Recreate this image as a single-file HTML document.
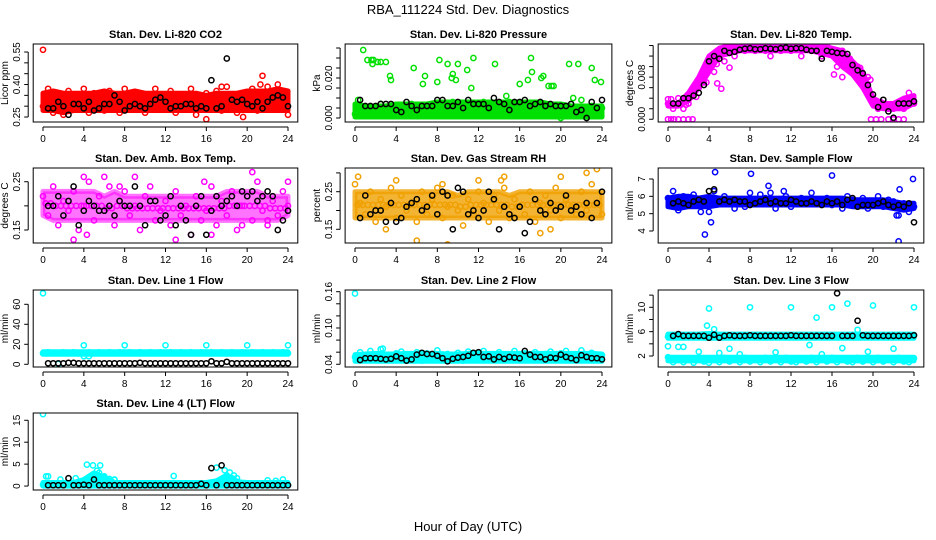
<!DOCTYPE html>
<html><head><meta charset="utf-8"><style>
html,body{margin:0;padding:0;background:#fff}
svg{display:block;font-family:"Liberation Sans",Arial,sans-serif}
</style></head><body>
<svg id="chart" width="936" height="540" viewBox="0 0 936 540">
<text x="468" y="14" text-anchor="middle" font-size="13">RBA_111224  Std. Dev. Diagnostics</text>
<text x="468" y="531" text-anchor="middle" font-size="13">Hour of Day (UTC)</text>
</svg>
<script>
// ---- data (black series & colored series sampled every 0.5 h from 0 to 24) ----
const xTicks=[0,4,8,12,16,20,24];
// P1 CO2
const co2Lo=[0.28,0.28,0.27,0.28,0.28,0.28,0.28,0.28,0.28,0.28,0.28,0.28,0.28,0.28,0.28,0.28,0.28,0.28,0.28,0.28,0.28,0.28,0.28,0.28,0.28];
const co2Hi=[0.36,0.37,0.36,0.36,0.36,0.36,0.37,0.36,0.36,0.37,0.36,0.36,0.36,0.36,0.36,0.36,0.35,0.36,0.36,0.36,0.37,0.37,0.37,0.38,0.37];
const co2Pts=[0.30,0.38,0.27,0.35,0.26,0.37,0.29,0.33,0.38,0.27,0.36,0.30,0.28,0.37,0.32,0.27,0.38,0.29,0.35,0.36,0.27,0.34,0.38,0.29,0.31,0.37,0.27,0.35,0.30,0.38,0.26,0.33,0.36,0.29,0.37,0.28,0.39,0.31,0.27,0.36,0.30,0.38,0.28,0.34,0.39,0.29,0.40,0.36,0.26];
const co2Out=[[0,0.56],[21.5,0.44],[21.3,0.40],[16,0.24],[19.6,0.25],[17.5,0.39]];
const co2Blk=[null,0.29,0.29,0.32,0.30,0.26,0.31,0.31,0.29,0.32,0.28,0.29,0.31,0.31,0.35,0.32,0.28,0.30,0.31,0.30,0.29,0.31,0.33,0.34,0.32,0.29,0.30,0.30,0.31,0.31,0.29,0.30,0.29,0.42,0.29,0.30,0.52,0.33,0.32,0.33,0.31,0.30,0.32,0.29,0.32,0.34,0.35,0.34,0.30];
// P2 Pressure
const presLo=[0.0005,0.0005,0.0005,0.0005,0.0005,0.0005,0.0005,0.0005,0.0005,0.0005,0.0005,0.0005,0.0005,0.0005,0.0005,0.0005,0.0005,0.0005,0.0005,0.0005,0.0005,0.0005,0.0005,0.0005,0.0005];
const presHi=[0.007,0.006,0.006,0.006,0.007,0.007,0.007,0.007,0.008,0.008,0.008,0.008,0.008,0.008,0.008,0.008,0.008,0.008,0.008,0.007,0.007,0.006,0.006,0.006,0.006];
const presPts=[0.002,0.006,0.001,0.005,0.003,0.007,0.002,0.005,0.004,0.006,0.003,0.007,0.005,0.004,0.006,0.003,0.007,0.005,0.004,0.008,0.006,0.004,0.007,0.005,0.006,0.008,0.004,0.007,0.005,0.006,0.008,0.004,0.007,0.005,0.006,0.003,0.007,0.005,0.004,0.006,0.000,0.004,0.007,0.002,0.005,0.003,0.006,0.004,0.005];
const presOut=[[0.3,0.009],[0.8,0.034],[1.2,0.029],[1.6,0.029],[1.7,0.027],[1.8,0.029],[2.2,0.028],[2.5,0.028],[3,0.028],[3.4,0.021],[3.5,0.019],[5.7,0.025],[6.6,0.017],[6.8,0.021],[8,0.018],[8.2,0.029],[9.0,0.027],[9.4,0.020],[9.5,0.022],[9.8,0.019],[10.0,0.027],[10.9,0.024],[11.3,0.015],[11.5,0.030],[13.6,0.027],[14.7,0.011],[16.0,0.017],[16.8,0.019],[17.1,0.030],[17.2,0.023],[18.1,0.020],[18.3,0.021],[18.8,0.016],[19.1,0.016],[19.3,0.016],[20.8,0.027],[21.2,0.010],[21.7,0.027],[22.0,0.009],[23.0,0.025],[23.3,0.019],[23.9,0.018]];
const presBlk=[null,0.009,0.006,0.006,0.006,0.007,0.007,0.007,0.004,0.003,0.008,0.006,0.004,0.006,0.006,0.006,0.009,0.009,0.006,0.006,0.008,0.005,0.009,0.007,0.007,0.007,0.005,0.010,0.008,0.007,0.004,0.008,0.008,0.009,0.006,0.007,0.008,0.006,0.007,0.006,0.006,0.006,0.007,0.003,0.004,0.000,0.008,0.005,0.009];
// P3 Temp
const tempLo=[0.0025,0.0025,0.0035,0.006,0.009,0.012,0.0125,0.013,0.013,0.013,0.013,0.013,0.013,0.013,0.013,0.0125,0.012,0.010,0.0085,0.006,0.0025,0.002,0.002,0.002,0.003];
const tempHi=[0.003,0.003,0.005,0.008,0.012,0.0135,0.014,0.014,0.014,0.014,0.014,0.014,0.014,0.014,0.014,0.014,0.0135,0.013,0.011,0.009,0.004,0.003,0.003,0.004,0.0045];
const tempPts=[0.003,0.002,0.004,0.002,0.003,0.005,0.006,0.007,0.011,0.009,0.012,0.011,0.013,0.012,0.014,0.013,0.014,0.013,0.014,0.013,0.012,0.014,0.013,0.014,0.013,0.014,0.012,0.014,0.013,0.014,0.012,0.014,0.013,0.010,0.013,0.011,0.009,0.010,0.007,0.008,0.004,0.002,0.003,0.002,0.002,0.003,0.002,0.005,0.003];
const tempOut=[[0,0],[0.3,0],[0.6,0],[1,0],[1.5,0],[2,0],[2.4,0],[19.8,0],[20.3,0],[20.8,0],[21.5,0],[22,0],[22.5,0],[23,0],[0,0.0038],[0.3,0.0038],[4.8,0.0068],[5.2,0.0058],[6.0,0.0098],[17,0.008],[16.2,0.0085]];
const tempBlk=[null,0.003,0.003,0.004,0.004,0.0045,0.005,0.0065,0.011,0.012,0.0115,0.013,0.0126,0.0128,0.0132,0.0134,0.0135,0.0133,0.0133,0.0135,0.0134,0.0133,0.0135,0.0136,0.0134,0.0135,0.0135,0.0132,0.0130,0.0130,0.0115,0.013,0.0128,0.0126,0.0125,0.0124,0.0103,0.0093,0.0087,0.0065,0.0047,0.0023,0.0037,0.0015,0.0003,0.003,0.003,0.003,0.0034];
// P4 Amb box temp
const ambLo=[0.18,0.17,0.17,0.17,0.17,0.17,0.17,0.17,0.17,0.17,0.17,0.17,0.17,0.17,0.17,0.17,0.17,0.17,0.17,0.17,0.17,0.17,0.17,0.17,0.18];
const ambHi=[0.23,0.23,0.23,0.23,0.23,0.23,0.22,0.23,0.22,0.22,0.22,0.22,0.22,0.22,0.22,0.22,0.22,0.22,0.23,0.23,0.23,0.23,0.22,0.22,0.22];
const ambPts=[0.22,0.18,0.24,0.16,0.21,0.19,0.23,0.15,0.20,0.25,0.17,0.22,0.19,0.24,0.16,0.21,0.23,0.18,0.20,0.15,0.22,0.24,0.17,0.19,0.21,0.16,0.23,0.18,0.20,0.14,0.22,0.17,0.19,0.24,0.16,0.21,0.18,0.23,0.15,0.20,0.22,0.17,0.25,0.19,0.16,0.21,0.18,0.23,0.20];
const ambOut=[[3,0.13],[4.0,0.26],[6.0,0.26],[4.3,0.14],[7.5,0.24],[15.8,0.25],[16.5,0.14],[19.5,0.16],[20.5,0.27],[22,0.17],[24,0.25],[13,0.13],[9,0.26]];
const ambBlk=[null,0.20,0.20,0.22,0.18,0.21,0.24,0.16,0.19,0.21,0.20,0.19,0.19,0.20,0.18,0.21,0.20,0.20,0.24,0.20,0.16,0.21,0.21,0.17,0.18,0.22,0.16,0.20,0.17,0.14,0.20,0.22,0.14,0.19,0.22,0.20,0.21,0.22,0.20,0.23,0.22,0.23,0.21,0.22,0.23,0.22,0.15,0.17,0.19];
// P5 RH
const rhLo=[0.18,0.18,0.18,0.18,0.18,0.18,0.18,0.18,0.18,0.18,0.18,0.18,0.18,0.18,0.18,0.18,0.18,0.18,0.18,0.18,0.18,0.18,0.18,0.18,0.18];
const rhHi=[0.25,0.25,0.25,0.25,0.25,0.25,0.25,0.25,0.25,0.25,0.24,0.25,0.25,0.25,0.25,0.24,0.25,0.25,0.25,0.25,0.25,0.25,0.25,0.25,0.25];
const rhPts=[0.27,0.22,0.19,0.25,0.17,0.23,0.21,0.26,0.18,0.24,0.20,0.22,0.17,0.25,0.19,0.23,0.26,0.18,0.21,0.24,0.20,0.16,0.23,0.19,0.25,0.22,0.17,0.24,0.20,0.26,0.18,0.23,0.21,0.19,0.25,0.17,0.22,0.24,0.20,0.26,0.18,0.23,0.21,0.19,0.25,0.20,0.27,0.22,0.19];
const rhOut=[[0.3,0.29],[4,0.28],[6,0.12],[9,0.11],[14.2,0.28],[14.5,0.29],[12,0.28],[18,0.14],[19,0.15],[20,0.29],[22.5,0.30],[23.5,0.31],[3,0.15],[8.5,0.27]];
const rhBlk=[null,0.18,0.24,0.19,0.20,0.20,0.17,0.22,0.17,0.18,0.21,0.22,0.23,0.20,0.21,0.24,0.19,0.25,0.24,0.15,0.26,0.25,0.19,0.20,0.18,0.20,0.25,0.23,0.15,0.21,0.19,0.18,0.21,0.14,0.17,0.23,0.20,0.19,0.22,0.20,0.21,0.24,0.20,0.21,0.19,0.22,0.18,0.22,0.25];
// P6 Sample flow
const sfLo=[5.4,5.3,5.4,5.4,5.4,5.5,5.5,5.5,5.5,5.5,5.5,5.5,5.5,5.5,5.5,5.5,5.5,5.5,5.4,5.4,5.4,5.4,5.3,5.2,5.3];
const sfHi=[5.9,6.0,6.0,5.9,6.0,5.9,5.9,5.9,5.9,5.9,5.9,5.9,5.9,5.9,5.9,5.9,5.9,5.9,5.8,5.8,5.8,5.8,5.7,5.6,5.6];
const sfPts=[5.9,6.3,5.2,6.0,5.5,6.1,5.7,5.8,5.1,6.3,5.8,6.0,5.6,5.3,5.7,5.4,6.2,5.6,6.1,5.9,6.2,5.3,5.8,6.0,5.4,5.8,5.9,5.7,6.2,5.6,5.8,5.9,5.5,5.7,5.3,6.0,5.8,5.5,5.9,5.3,5.6,6.0,5.4,5.8,5.7,4.9,5.6,5.1,5.4];
const sfOut=[[3.6,3.8],[4.6,7.4],[8.1,7.3],[16,7.2],[22.5,3.4],[23.9,7.0],[4.2,4.5],[9.8,6.6],[22.6,6.4],[11.3,6.3],[3.2,5.1],[22.3,4.9]];
const sfBlk=[null,5.6,5.7,5.6,5.5,5.7,5.8,5.7,6.3,6.4,5.7,5.8,5.7,5.8,5.7,5.7,5.5,5.6,5.7,5.8,5.6,5.7,5.6,5.6,5.8,5.7,5.6,5.6,5.7,5.6,5.5,5.7,5.6,5.7,5.5,5.8,5.9,5.4,5.5,5.5,5.5,5.6,5.7,5.5,5.4,5.5,5.4,5.6,4.5];
// P7 Line 1
const l1Lo=[10,10,10,10,10,10,10,10,10,10,10,10,10,10,10,10,10,10,10,10,10,10,10,10,10];
const l1Hi=[12.5,12.5,12.5,12.5,12.5,12.5,12.5,12.5,12.5,12.5,12.5,12.5,12.5,12.5,12.5,12.5,12.5,12.5,12.5,12.5,12.5,12.5,12.5,12.5,12.5];
const l1Pts=[11,12,11,0.5,12,11,12,11,8,12,11,12,11,12,11,12,11,12,11,12,11,12,11,12,11,12,11,12,11,12,11,12,11,12,11,12,11,12,11,12,11,12,11,12,11,12,11,12,11];
const l1Out=[[0,71],[4,19],[8,19],[12,19],[16,19],[20,19],[24,19],[4.5,8]];
const l1Blk=[null,1,1,1,1,1.5,1.5,1,1,1,1,1,1,1,1,1,1,1,1,1.5,1,1,1,1,1,1,1,1,1,1,1,1,1,3,1,1,2.5,1,1,1,1,1,1,1,1,1,1,1,1];
// P8 Line 2
const l2Lo=[0.045,0.045,0.045,0.045,0.045,0.045,0.045,0.045,0.045,0.045,0.045,0.045,0.045,0.045,0.045,0.045,0.045,0.045,0.045,0.045,0.045,0.045,0.045,0.045,0.045];
const l2Hi=[0.056,0.057,0.058,0.057,0.057,0.058,0.058,0.058,0.058,0.057,0.057,0.058,0.058,0.058,0.058,0.058,0.058,0.058,0.058,0.058,0.058,0.058,0.058,0.058,0.057];
const l2Pts=[0.052,0.060,0.048,0.062,0.050,0.065,0.055,0.047,0.058,0.061,0.049,0.056,0.060,0.046,0.058,0.052,0.063,0.048,0.057,0.054,0.059,0.046,0.061,0.052,0.058,0.062,0.049,0.056,0.060,0.047,0.055,0.062,0.050,0.058,0.054,0.060,0.048,0.057,0.061,0.050,0.058,0.062,0.049,0.056,0.063,0.051,0.059,0.048,0.055];
const l2Out=[[0,0.157],[2.7,0.066]];
const l2Blk=[null,0.047,0.050,0.050,0.050,0.049,0.048,0.049,0.053,0.050,0.046,0.048,0.056,0.059,0.057,0.057,0.054,0.050,0.045,0.049,0.051,0.052,0.054,0.059,0.060,0.052,0.053,0.048,0.052,0.049,0.052,0.051,0.050,0.062,0.056,0.052,0.052,0.048,0.051,0.050,0.056,0.052,0.050,0.047,0.055,0.052,0.050,0.050,0.048];
// P9 Line 3
const l3Lo=[4.9,4.9,4.9,4.9,4.9,4.9,4.9,4.9,4.9,4.9,4.9,4.9,4.9,4.9,4.9,4.9,4.9,4.9,4.9,4.9,4.9,4.9,4.9,4.9,4.9];
const l3Hi=[5.6,5.6,5.6,5.6,5.7,5.6,5.6,5.6,5.6,5.6,5.6,5.6,5.6,5.6,5.6,5.6,5.6,5.6,5.6,5.6,5.6,5.6,5.6,5.6,5.6];
const l3Lo2=[1.2,1.2,1.2,1.2,1.2,1.2,1.2,1.2,1.2,1.2,1.2,1.2,1.2,1.2,1.2,1.2,1.2,1.2,1.2,1.2,1.2,1.2,1.2,1.2,1.2];
const l3Hi2=[1.8,1.8,1.8,1.8,1.8,1.8,1.8,1.8,1.8,1.8,1.8,1.8,1.8,1.8,1.8,1.8,1.8,1.8,1.8,1.8,1.8,1.8,1.8,1.8,1.8];
const l3Pts=[1.8,1.0,1.6,1.0,1.5,0.9,1.7,1.1,0.9,1.6,1.0,1.7,1.1,1.6,1.0,1.7,1.1,1.6,1.0,1.7,1.1,1.6,1.0,1.7,1.1,1.0,1.6,1.1,1.7,1.0,1.6,1.1,1.7,1.0,1.6,1.1,1.0,1.7,1.1,1.6,1.0,1.7,1.1,1.6,1.0,1.7,1.1,1.0,1.6];
const l3Out=[[0,3.6],[1,3.5],[1.5,3.5],[4,9.8],[8,10],[12,10],[16,10],[17.5,10.6],[20,10.3],[24,10],[14.5,8.3],[3.8,7],[4.5,6.4],[13.8,3.8],[15,2.3],[10.5,2.6],[19.5,2.7],[22,3.2],[18.5,6.3],[3,2.7],[7,2.3],[5,2.5],[17,3.3],[6,3.2],[0,5.2]];
const l3Blk=[null,5.3,5.6,5.3,5.3,5.3,5.3,5.3,5.0,5.5,5.0,5.3,5.4,5.3,5.3,5.3,5.4,5.3,5.3,5.3,5.3,5.3,5.3,5.3,5.4,5.3,5.3,5.3,5.3,5.3,5.3,5.3,5.3,12.3,5.3,5.3,5.3,7.8,5.4,5.3,5.3,5.3,5.3,5.3,5.3,5.3,5.3,5.3,5.4];
// P10 Line 4
const l4Lo=[0,0,0,0,0,0,0,0,0,0,0,0,0,0,0,0,0,0,0,0,0,0,0,0,0];
const l4Hi=[0.8,0.8,0.8,0.8,1.5,3,2,0.8,0.8,0.8,0.8,0.8,0.8,0.8,0.8,0.8,0.8,1.2,2.5,1,0.8,0.8,0.8,0.8,0.8];
const l4Pts=[0.3,2.2,0.2,0.4,0.3,0.2,0.3,0.4,0.2,1.5,2.6,3.0,2.2,1.6,1.4,0.3,0.2,0.3,0.2,0.3,0.2,0.3,0.2,0.3,0.2,0.3,0.2,0.3,0.2,0.3,0.2,0.3,0.6,0.3,0.2,1.3,2.4,1.8,1.0,0.3,0.2,0.3,0.2,0.3,0.2,0.3,0.2,0.3,0.2];
const l4Out=[[0,16.4],[0.3,2.2],[1.7,1.5],[3.2,1.8],[4.3,4.9],[4.9,4.7],[5.3,3.5],[5.6,4.7],[6,2],[7,1.5],[12.8,2.3],[17,4.2],[17.8,3.6],[18.3,3.1],[18.7,2.4],[19,1.8],[22,1.3],[22.8,1.2],[23.5,1.5]];
const l4Blk=[null,0.2,0.2,0.2,0.2,1.8,0.2,0.2,0.3,0.2,1.5,0.2,0.2,0.2,0.2,0.2,0.2,0.2,0.2,0.2,0.2,0.2,0.2,0.2,0.2,0.2,0.2,0.2,0.2,0.2,0.2,0.5,0.2,4.1,0.2,4.7,0.2,0.2,0.2,0.2,0.2,0.2,0.2,0.2,0.2,0.2,0.2,0.2,0.2];

// ---- layout ----
const cols=[[43,288],[355,602],[668,914]];
const rows=[[44,122],[168,243],[290,367],[413,490]];
const panels=[
 {name:'co2',title:'Stan. Dev. Li-820 CO2',yl:'Licor ppm',c:0,r:0,d:[0.227,0.587],col:'#ff0000',lo:co2Lo,hi:co2Hi,pts:co2Pts,out:co2Out,blk:co2Blk,ticks:[0.25,0.30,0.35,0.40,0.45,0.50,0.55],labs:['0.25','','','0.40','','','0.55']},
 {name:'pressure',title:'Stan. Dev. Li-820 Pressure',yl:'kPa',c:1,r:0,d:[-0.002,0.037],col:'#00e000',lo:presLo,hi:presHi,pts:presPts,out:presOut,blk:presBlk,ticks:[0,0.005,0.010,0.015,0.020,0.025,0.030,0.035],labs:['0.000','','','','0.020','','','']},
 {name:'temp',title:'Stan. Dev. Li-820 Temp.',yl:'degrees C',c:2,r:0,d:[-0.00052,0.01429],col:'#ff00ff',lo:tempLo,hi:tempHi,pts:tempPts,out:tempOut,blk:tempBlk,ticks:[0,0.002,0.004,0.006,0.008,0.010,0.012,0.014],labs:['0.000','','','','0.008','','','']},
 {name:'amb-temp',title:'Stan. Dev. Amb. Box Temp.',yl:'degrees C',c:0,r:1,d:[0.1231,0.2784],col:'#ff00ff',lo:ambLo,hi:ambHi,pts:ambPts,out:ambOut,blk:ambBlk,ticks:[0.15,0.20,0.25],labs:['0.15','','0.25'],bandOp:0.55},
 {name:'rh',title:'Stan. Dev. Gas Stream RH',yl:'percent',c:1,r:1,d:[0.1136,0.313],col:'#f0a000',lo:rhLo,hi:rhHi,pts:rhPts,out:rhOut,blk:rhBlk,ticks:[0.15,0.20,0.25,0.30],labs:['0.15','','0.25',''],bandOp:0.8},
 {name:'sample-flow',title:'Stan. Dev. Sample Flow',yl:'ml/min',c:2,r:1,d:[3.308,7.635],col:'#0000ff',lo:sfLo,hi:sfHi,pts:sfPts,out:sfOut,blk:sfBlk,ticks:[4,5,6,7],labs:['4','5','6','7']},
 {name:'line1',title:'Stan. Dev. Line 1 Flow',yl:'ml/min',c:0,r:2,d:[-2.7,74.3],col:'#00ffff',lo:l1Lo,hi:l1Hi,pts:l1Pts,out:l1Out,blk:l1Blk,ticks:[0,20,40,60],labs:['0','20','40','60']},
 {name:'line2',title:'Stan. Dev. Line 2 Flow',yl:'ml/min',c:1,r:2,d:[0.0355,0.1628],col:'#00ffff',lo:l2Lo,hi:l2Hi,pts:l2Pts,out:l2Out,blk:l2Blk,ticks:[0.04,0.06,0.08,0.10,0.12,0.14,0.16],labs:['0.04','','','0.10','','','0.16']},
 {name:'line3',title:'Stan. Dev. Line 3 Flow',yl:'ml/min',c:2,r:2,d:[0.193,12.84],col:'#00ffff',lo:l3Lo,hi:l3Hi,lo2:l3Lo2,hi2:l3Hi2,pts:l3Pts,out:l3Out,blk:l3Blk,ticks:[2,4,6,8,10,12],labs:['2','','6','','10','']},
 {name:'line4',title:'Stan. Dev. Line 4 (LT) Flow',yl:'ml/min',c:0,r:3,d:[-0.9,16.66],col:'#00ffff',lo:l4Lo,hi:l4Hi,pts:l4Pts,out:l4Out,blk:l4Blk,ticks:[0,5,10,15],labs:['0','5','10','15']}
];
const svg=document.getElementById('chart');
const NS='http://www.w3.org/2000/svg';
function mk(tag,attrs,parent){const e=document.createElementNS(NS,tag);for(const k in attrs)e.setAttribute(k,attrs[k]);(parent||svg).appendChild(e);return e;}
function circ(g,x,y,color,name){
  const c=mk('circle',{cx:x.toFixed(1),cy:y.toFixed(1),r:2.6,fill:'none',stroke:color,'stroke-width':1.5},g);
  
  
}
panels.forEach(p=>{
  const [x0,x24]=cols[p.c];const [top,bot]=rows[p.r];
  const sx=t=>x0+(x24-x0)*t/24;
  const sy=v=>bot-(v-p.d[0])/(p.d[1]-p.d[0])*(bot-top);
  const L=sx(-0.96),R=sx(24.96);
  const g=mk('g',{});
  
  
  const clipId='clip-'+p.name;
  const cp=mk('clipPath',{id:clipId},g);mk('rect',{x:L,y:top,width:R-L,height:bot-top},cp);
  const pg=mk('g',{'clip-path':'url(#'+clipId+')'},g);
  // bands
  const bands=[[p.lo,p.hi]];if(p.lo2)bands.push([p.lo2,p.hi2]);
  bands.forEach((b,bi)=>{
    let d='';b[1].forEach((v,i)=>{d+=(i?'L':'M')+sx(i).toFixed(1)+','+sy(v).toFixed(1);});
    for(let i=b[0].length-1;i>=0;i--)d+='L'+sx(i).toFixed(1)+','+sy(b[0][i]).toFixed(1);
    const path=mk('path',{d:d+'Z',fill:p.col,stroke:p.col,'stroke-width':5,'stroke-linejoin':'round','fill-opacity':p.bandOp||1,'stroke-opacity':p.bandOp||1},pg);
    
    
  });
  p.pts.forEach((v,i)=>{if(v!==null)circ(pg,sx(i*0.5),sy(v),p.col,'point-'+p.name);});
  p.pts.forEach((v,i)=>{if(v!==null&&i<48){const b=(p.lo[Math.floor(i/2)]+p.hi[Math.floor(i/2)])/2;circ(pg,sx(i*0.5+0.25),sy(b),p.col,'point-'+p.name);}});
  p.out.forEach(o=>circ(pg,sx(o[0]),sy(o[1]),p.col,'outlier-'+p.name));
  p.blk.forEach((v,i)=>{if(v!==null)circ(pg,sx(i*0.5),sy(v),'#000','black-point-'+p.name);});
  // box
  const box=mk('rect',{x:L,y:top,width:R-L,height:bot-top,fill:'none',stroke:'#000','stroke-width':1},g);
  
  
  // title
  const t=mk('text',{x:(L+R)/2,y:top-6,'text-anchor':'middle','font-size':11,'font-weight':'bold'},g);
  t.textContent=p.title;
  
  
  // x axis
  const ay=bot+5;
  const xa=mk('line',{x1:sx(0),x2:sx(24),y1:ay,y2:ay,stroke:'#000'},g);
  
  
  xTicks.forEach(v=>{
    mk('line',{x1:sx(v),x2:sx(v),y1:ay,y2:ay+4,stroke:'#000'},g);
    const tl=mk('text',{x:sx(v),y:ay+15,'text-anchor':'middle','font-size':10},g);
    tl.textContent=v;
    
    
  });
  // y axis
  const ax=L-5;
  const ya=mk('line',{x1:ax,x2:ax,y1:sy(p.ticks[0]),y2:sy(p.ticks[p.ticks.length-1]),stroke:'#000'},g);
  
  
  p.ticks.forEach((v,i)=>{
    mk('line',{x1:ax-4,x2:ax,y1:sy(v),y2:sy(v),stroke:'#000'},g);
    if(p.labs[i]){
      const tl=mk('text',{x:0,y:0,'text-anchor':'middle','font-size':10,transform:`translate(${ax-8},${sy(v)}) rotate(-90)`},g);
      tl.textContent=p.labs[i];
      
      
    }
  });
  const yl=mk('text',{x:0,y:0,'text-anchor':'middle','font-size':10,transform:`translate(${ax-20},${(top+bot)/2}) rotate(-90)`},g);
  yl.textContent=p.yl;
  
  
});
</script>
</body></html>
